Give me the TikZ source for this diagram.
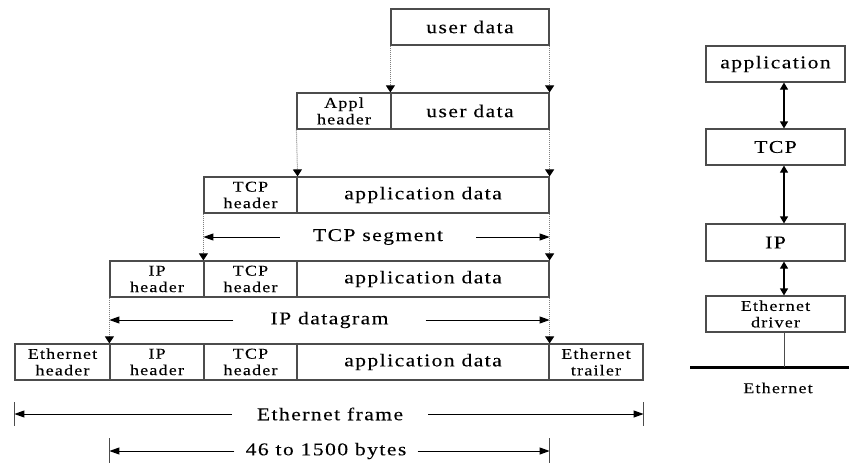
\documentclass[tikz,border=0pt]{standalone}
\usepackage{fontspec}
\setmainfont{Liberation Serif}
\newfontfamily\widefont[FakeStretch=1.2,FakeBold=0.12,LetterSpace=8]{Liberation Serif}
\usetikzlibrary{arrows.meta}

\begin{document}
\begin{tikzpicture}[x=1pt,y=-1pt,
  box/.style={draw=black!70, line width=1.2pt, minimum height=36pt, inner sep=0pt,
    align=center, font=\widefont\fontsize{18}{20}\selectfont},
  hdr/.style={box, font=\widefont\fontsize{15}{16.5}\selectfont},
  down/.style={densely dotted, draw=black!50, line width=1pt,
    -{Triangle[length=7pt,width=9pt,black]}},
  span/.style={line width=1pt, -{Triangle[length=10pt,width=7pt]}},
  spanlbl/.style={inner ysep=0pt, font=\widefont\fontsize{18}{20}\selectfont},
  bar/.style={line width=1.2pt, draw=black!70},
  both/.style={line width=1.2pt,
    {Triangle[length=7pt,width=8pt]}-{Triangle[length=7pt,width=8pt]}},
]
\useasboundingbox (0,0) rectangle (849,463);

% ---- encapsulation layers ----
% user data
\node[box, minimum width=158pt] (ud1) at (470,27) {user data};
% application layer
\node[hdr, minimum width=94pt]  (ah2) at (344,111) {Appl\\header};
\node[box, minimum width=158pt] (ud2) at (470,111) {user data};
% TCP segment
\node[hdr, minimum width=93pt]  (th3) at (250.5,195) {TCP\\header};
\node[box, minimum width=252pt] (ad3) at (423,195) {application data};
% IP datagram
\node[hdr, minimum width=94pt]  (ih4) at (157,279) {IP\\header};
\node[hdr, minimum width=93pt]  (th4) at (250.5,279) {TCP\\header};
\node[box, minimum width=252pt] (ad4) at (423,279) {application data};
% Ethernet frame
\node[hdr, minimum width=95pt]  (eh5) at (62.5,362) {Ethernet\\header};
\node[hdr, minimum width=94pt]  (ih5) at (157,362) {IP\\header};
\node[hdr, minimum width=93pt]  (th5) at (250.5,362) {TCP\\header};
\node[box, minimum width=252pt] (ad5) at (423,362) {application data};
\node[hdr, minimum width=94pt]  (et5) at (596,362) {Ethernet\\trailer};

% ---- dotted drop lines ----
\draw[down] (ud1.south west) -- (ud2.north west);
\draw[down] (ud1.south east) -- (ud2.north east);
\draw[down] (ah2.south west) -- (th3.north east);
\draw[down] (ud2.south east) -- (ad3.north east);
\draw[down] (th3.south west) -- (th4.north west);
\draw[down] (ad3.south east) -- (ad4.north east);
\draw[down] (ih4.south west) -- (ih5.north west);
\draw[down] (ad4.south east) -- (ad5.north east);

% ---- span labels ----
\node[spanlbl, inner xsep=33pt] (tseg) at (378,237) {TCP segment};
\draw[span] (tseg.west) -- (tseg.west -| th3.west);
\draw[span] (tseg.east) -- (tseg.east -| ad3.east);

\node[spanlbl, inner xsep=37pt] (ipdg) at (329.5,320) {IP datagram};
\draw[span] (ipdg.west) -- (ipdg.west -| ih4.west);
\draw[span] (ipdg.east) -- (ipdg.east -| ad4.east);

\node[spanlbl, inner xsep=25pt] (efr) at (330,414) {Ethernet frame};
\draw[span] (efr.west) -- (efr.west -| eh5.west);
\draw[span] (efr.east) -- (efr.east -| et5.east);
\draw[bar] ([yshift=12pt]efr.west -| eh5.west) -- ([yshift=-12pt]efr.west -| eh5.west);
\draw[bar] ([yshift=12pt]efr.east -| et5.east) -- ([yshift=-12pt]efr.east -| et5.east);

\node[spanlbl, inner xsep=11pt] (bytes) at (326,451) {46 to 1500 bytes};
\draw[span] (bytes.west) -- (bytes.west -| ih5.west);
\draw[span] (bytes.east) -- (bytes.east -| ad5.east);
\draw[bar] ([yshift=13pt]bytes.west -| ih5.west) -- ([yshift=-13pt]bytes.west -| ih5.west);
\draw[bar] ([yshift=13pt]bytes.east -| ad5.east) -- ([yshift=-13pt]bytes.east -| ad5.east);

% ---- protocol stack ----
\node[box, minimum width=139pt] (sapp) at (775.5,64) {application};
\node[box, minimum width=139pt] (stcp) at (775.5,147) {TCP};
\node[box, minimum width=139pt, minimum height=37pt] (sip) at (775.5,242.5) {IP};
\node[hdr, minimum width=139pt] (sdrv) at (775.5,314) {Ethernet\\driver};
\coordinate (axis) at (784,0);
\draw[both] (sapp.south -| axis) -- (stcp.north -| axis);
\draw[both] (stcp.south -| axis) -- (sip.north -| axis);
\draw[both] (sip.south -| axis) -- (sdrv.north -| axis);

\coordinate (busL) at (690,367);
\coordinate (busR) at (849,367);
\draw[line width=3pt] (busL) -- (busR);
\draw[bar, line width=1pt] (sdrv.south -| axis) -- (busL -| axis);
\node[font=\widefont\fontsize{15}{17}\selectfont] (busname) at (778,388) {Ethernet};
\end{tikzpicture}
\end{document}
